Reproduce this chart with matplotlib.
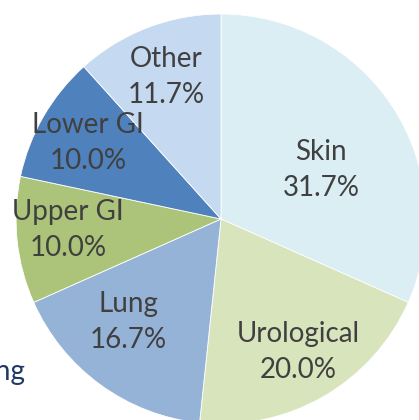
import matplotlib.pyplot as plt

# data (counts; percentages shown as share of total)
categories = ['Skin', 'Urological', 'Lung', 'Upper GI', 'Lower GI', 'Other']
counts = [19, 12, 10, 6, 6, 7]
colors = ['#DAEEF3', '#D8E4BC', '#95B3D7', '#ABC47A', '#4F81BD', '#C5D9F1']

plt.rcParams['font.family'] = ['Lato', 'DejaVu Sans']

fig = plt.figure(figsize=(4.19, 4.20), dpi=100)
ax = fig.add_axes([0, 0, 1, 1])

cx, cy, r = 221, 201, 205
wedges, _ = ax.pie(counts, colors=colors, startangle=90, counterclock=False,
                   center=(cx, cy), radius=r, frame=True,
                   wedgeprops=dict(edgecolor='white', linewidth=0.6))
ax.set_xlim(0, 419)
ax.set_ylim(0, 420)
ax.set_aspect('equal')
ax.axis('off')

# label positions (px, from top-left) picked to match the best-fit placement
label_pos = [(321, 170), (298, 352), (128, 322), (68, 230), (88, 143), (166, 77)]
total = sum(counts)
for name, val, (px, py) in zip(categories, counts, label_pos):
    ax.text(px, 420 - py, f'{name}\n{val / total * 100:.1f}%', ha='center', va='center',
            fontsize=20, color='#404040', linespacing=1.45)

# clipped legend text at the left edge, as in the source
ax.text(25, 420 - 372, 'Lung', ha='right', va='center', fontsize=20, color='#1F3864')

fig.savefig('out.png', dpi=100)
